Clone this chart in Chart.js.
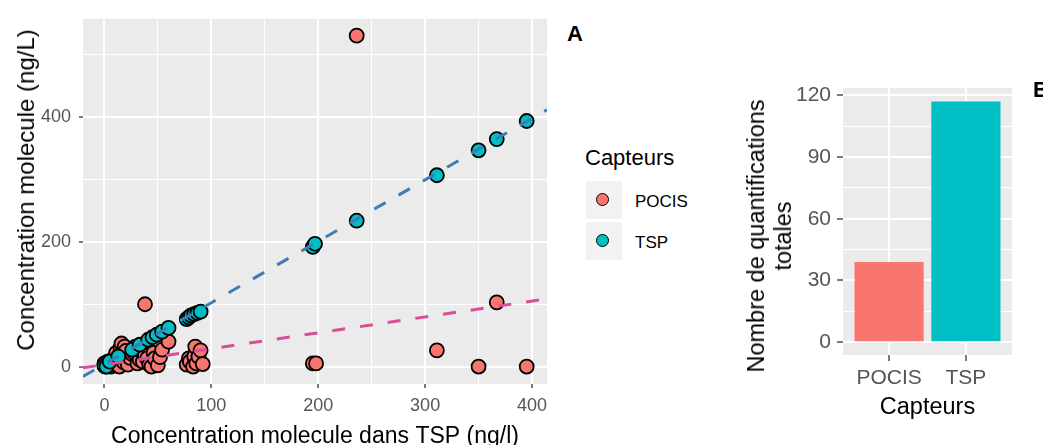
<!DOCTYPE html>
<html lang="fr">
<head>
<meta charset="utf-8">
<title>Capteurs POCIS / TSP</title>
<script src="https://cdn.jsdelivr.net/npm/chart.js@4.4.1/dist/chart.umd.min.js"></script>
<style>
  html, body { margin: 0; padding: 0; background: #fff; overflow: hidden; }
  body { width: 1043px; height: 445px; position: relative; font-family: 'Liberation Sans', Arial, sans-serif; }
  canvas { position: absolute; top: 0; }
  #scatter { left: 0; }
  #bars { left: 690px; }
  .txt { position: absolute; white-space: nowrap; color: #000; line-height: 1; }
  .tag { font-weight: bold; font-size: 22px; }
  .rot { transform: translate(-50%, -50%) rotate(-90deg); text-align: center; }
  .key { position: absolute; width: 36px; height: 38px; background: #F2F2F2; }
  .dot { position: absolute; left: 10px; top: 12px; width: 11px; height: 11px; border: 1.8px solid #000; border-radius: 50%; }
</style>
</head>
<body>
<canvas id="scatter" width="560" height="445"></canvas>
<canvas id="bars" width="353" height="445"></canvas>

<div class="txt tag" style="left:567px; top:23px;">A</div>
<div class="txt tag" style="left:1033px; top:79px;">B</div>

<div class="txt rot" style="left:26px; top:190px; font-size:24px;">Concentration molecule (ng/L)</div>
<div class="txt rot" style="left:770px; top:236px; font-size:23.5px; line-height:27px;">Nombre de quantifications<br>totales</div>

<div id="legend"></div>

<script>
// --- DONNEES ---
const categories = ['POCIS', 'TSP'];
const seriesColors = ['#F8766D', '#00BFC4'];

// Panneau A : concentration dans TSP (x) vs concentration molecule (y)
const pocisX = [0, 1, 2, 3, 5, 6, 8, 9, 10, 11, 13, 14, 15, 16, 18, 19, 20, 22, 24, 26, 28, 29, 31, 33, 35, 36, 38, 38, 40, 42, 44, 46, 47, 50, 52, 54, 60, 77, 79, 80, 83, 84, 85, 86, 88, 90, 92, 195, 198, 236, 311, 350, 367, 395];
const pocisY = [5, 0, 3, 8, 2, 0, 12, 4, 10, 22, 16, 0, 30, 37, 7, 32, 25, 3, 14, 20, 22, 32, 5, 11, 24, 8, 18, 100, 13, 3, 0, 22, 13, 2, 15, 27, 40, 3, 13, 8, 0, 16, 32, 5, 16, 26, 4, 5, 5, 531, 26, 0, 103, 0];
const tspX = [0, 2, 5, 13, 26, 33, 41, 45, 49, 54, 60, 77, 79, 81, 84, 87, 90, 195, 197, 236, 311, 350, 367, 395];
const tspY = [1, 0, 8, 16, 27, 35, 43, 47, 51, 56, 62, 76, 79, 82, 84, 86, 88, 192, 197, 234, 307, 347, 365, 394];

// droites de tendance (pointillés)
const fitX = [-20, 414];
const fitPocis = [-2, 108.7];
const fitTsp = [-16, 412];

const xMajorA = [0, 100, 200, 300, 400];
const xMinorA = [50, 150, 250, 350];
const yMajorA = [0, 200, 400];
const yMinorA = [100, 300, 500];

// Panneau B : nombre de quantifications totales
const totals = [39, 117];
const yMajorB = [0, 30, 60, 90, 120];
const yMinorB = [15, 45, 75, 105];

const fitColors = ['#DA4D98', '#3D7DB8'];

Chart.defaults.font.family = "'Liberation Sans', Arial, sans-serif";
Chart.defaults.animation = false;

// fond gris du panneau
const panelBg = {
  id: 'panelBg',
  beforeDraw(chart) {
    const { ctx, chartArea: a } = chart;
    ctx.save();
    ctx.fillStyle = '#EBEBEB';
    ctx.fillRect(a.left, a.top, a.right - a.left, a.bottom - a.top);
    ctx.restore();
  }
};

function gridFor(major) {
  const isMajor = c => c.tick && major.includes(c.tick.value);
  return {
    color: '#FFFFFF',
    lineWidth: c => isMajor(c) ? 2 : 1,
    drawTicks: true,
    tickLength: 4,
    tickWidth: 1.3,
    tickColor: c => isMajor(c) ? '#333333' : 'rgba(0,0,0,0)'
  };
}

function ticksFrom(major, minor) {
  return s => { s.ticks = major.concat(minor).sort((a, b) => a - b).map(v => ({ value: v })); };
}

const toPts = (xs, ys) => xs.map((x, i) => ({ x: x, y: ys[i] }));

// --- PANNEAU A ---
new Chart(document.getElementById('scatter'), {
  type: 'scatter',
  data: {
    datasets: [
      { type: 'line', data: toPts(fitX, fitTsp), borderColor: fitColors[1], borderWidth: 3, borderDash: [13, 15], pointRadius: 0, fill: false, order: 0 },
      { type: 'line', data: toPts(fitX, fitPocis), borderColor: fitColors[0], borderWidth: 3, borderDash: [13, 15], pointRadius: 0, fill: false, order: 1 },
      { label: categories[1], data: toPts(tspX, tspY), backgroundColor: seriesColors[1], borderColor: '#000', borderWidth: 1.8, pointRadius: 7, order: 2 },
      { label: categories[0], data: toPts(pocisX, pocisY), backgroundColor: seriesColors[0], borderColor: '#000', borderWidth: 1.8, pointRadius: 7, order: 3 }
    ]
  },
  options: {
    responsive: false,
    devicePixelRatio: 1,
    layout: { padding: { top: 18, right: 13, left: 0, bottom: 0 } },
    plugins: { legend: { display: false }, tooltip: { enabled: false } },
    scales: {
      x: {
        type: 'linear', min: -20, max: 414,
        afterBuildTicks: ticksFrom(xMajorA, xMinorA),
        afterFit: s => { s.height = 61; },
        grid: gridFor(xMajorA),
        border: { display: false },
        ticks: { autoSkip: false, maxRotation: 0, padding: 7, color: '#555', font: { size: 18 },
          callback: v => xMajorA.includes(v) ? String(v) : '' },
        title: { display: true, text: 'Concentration molecule dans TSP (ng/l)', color: '#000',
          font: { size: 23, lineHeight: 0.7 }, padding: { top: 0, bottom: 0 } }
      },
      y: {
        type: 'linear', min: -28, max: 558,
        afterBuildTicks: ticksFrom(yMajorA, yMinorA),
        afterFit: s => { s.width = 83; },
        grid: gridFor(yMajorA),
        border: { display: false },
        ticks: { autoSkip: false, padding: 8, color: '#555', font: { size: 18 },
          callback: v => yMajorA.includes(v) ? String(v) : '' }
      }
    }
  },
  plugins: [panelBg]
});

// --- PANNEAU B ---
new Chart(document.getElementById('bars'), {
  type: 'bar',
  data: {
    datasets: [{
      data: totals.map((v, i) => ({ x: i + 1, y: v })),
      backgroundColor: seriesColors,
      borderWidth: 0,
      categoryPercentage: 1,
      barPercentage: 0.9
    }]
  },
  options: {
    responsive: false,
    devicePixelRatio: 1,
    layout: { padding: { top: 88, right: 31, left: 0, bottom: 0 } },
    plugins: { legend: { display: false }, tooltip: { enabled: false } },
    scales: {
      x: {
        type: 'linear', min: 0.4, max: 2.6, offset: false,
        afterBuildTicks: s => { s.ticks = categories.map((c, i) => ({ value: i + 1 })); },
        afterFit: s => { s.height = 90; },
        grid: Object.assign(gridFor([1, 2]), { offset: false, tickLength: 6 }),
        border: { display: false },
        ticks: { autoSkip: false, maxRotation: 0, padding: 5, color: '#555', font: { size: 21 },
          callback: v => categories[v - 1] },
        title: { display: true, text: 'Capteurs', color: '#000', font: { size: 23.5 }, padding: { top: 0, bottom: 23 } }
      },
      y: {
        type: 'linear', min: -6.2, max: 123.5,
        afterBuildTicks: ticksFrom(yMajorB, yMinorB),
        afterFit: s => { s.width = 153; },
        grid: Object.assign(gridFor(yMajorB), { tickLength: 6 }),
        border: { display: false },
        ticks: { autoSkip: false, padding: 6, color: '#555', font: { size: 21 },
          callback: v => yMajorB.includes(v) ? String(v) : '' }
      }
    }
  },
  plugins: [panelBg]
});

// --- LEGENDE ---
const legendEl = document.getElementById('legend');
let html = '<div class="txt" style="left:585px; top:147px; font-size:22px;">Capteurs</div>';
categories.forEach((c, i) => {
  const top = 181 + i * 41;
  html += `<div class="key" style="left:586px; top:${top}px;"><span class="dot" style="background:${seriesColors[i]}"></span></div>`;
  html += `<div class="txt" style="left:635px; top:${top + 12}px; font-size:17px;">${c}</div>`;
});
legendEl.innerHTML = html;
</script>
</body>
</html>
